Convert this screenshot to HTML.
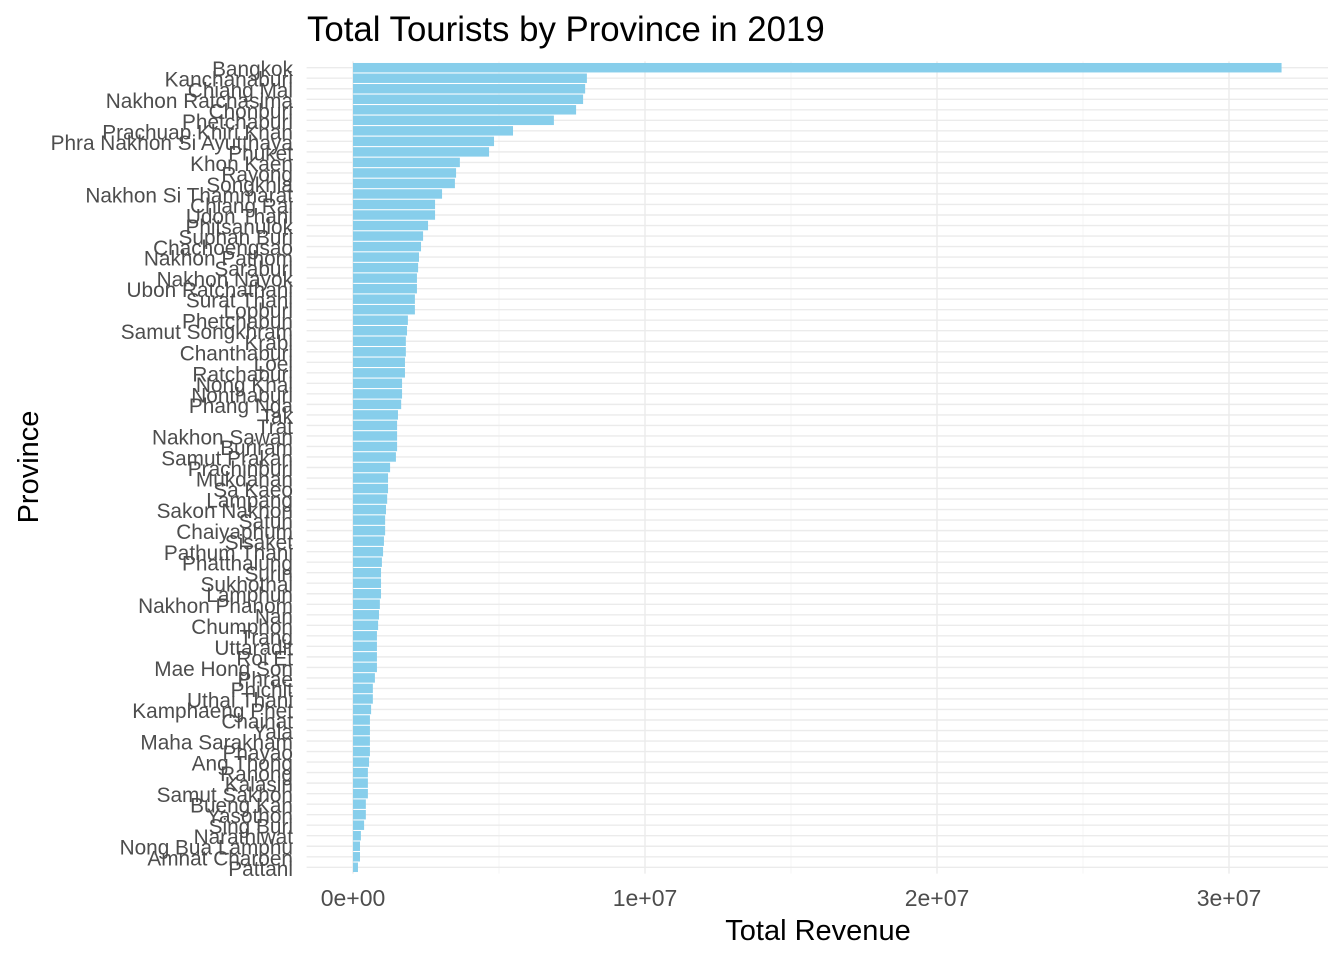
<!DOCTYPE html>
<html><head><meta charset="utf-8"><style>
body{margin:0;background:#fff}
svg text{font-family:"Liberation Sans",Arial,sans-serif}
</style></head><body>
<svg id="chart" width="1344" height="960" xmlns="http://www.w3.org/2000/svg">
<rect width="1344" height="960" fill="#fff"/>
<g id="grid"></g>
<g id="bars"></g>
<g id="ylabels"></g>
<g id="xlabels"></g>
<text x="307" y="41" font-size="34.8" fill="#000">Total Tourists by Province in 2019</text>
<text x="818" y="940" font-size="29" fill="#000" text-anchor="middle">Total Revenue</text>
<text transform="translate(38,467) rotate(-90)" font-size="29" fill="#000" text-anchor="middle">Province</text>
</svg>
<script>
const provinces = ["Bangkok","Kanchanaburi","Chiang Mai","Nakhon Ratchasima","Chonburi","Phetchaburi","Prachuap Khiri Khan","Phra Nakhon Si Ayutthaya","Phuket","Khon Kaen","Rayong","Songkhla","Nakhon Si Thammarat","Chiang Rai","Udon Thani","Phitsanulok","Suphan Buri","Chachoengsao","Nakhon Pathom","Saraburi","Nakhon Nayok","Ubon Ratchathani","Surat Thani","Lopburi","Phetchabun","Samut Songkhram","Krabi","Chanthaburi","Loei","Ratchaburi","Nong Khai","Nonthaburi","Phang Nga","Tak","Trat","Nakhon Sawan","Buriram","Samut Prakan","Prachinburi","Mukdahan","Sa Kaeo","Lampang","Sakon Nakhon","Satun","Chaiyaphum","Sisaket","Pathum Thani","Phatthalung","Surin","Sukhothai","Lamphun","Nakhon Phanom","Nan","Chumphon","Trang","Uttaradit","Roi Et","Mae Hong Son","Phrae","Phichit","Uthai Thani","Kamphaeng Phet","Chainat","Yala","Maha Sarakham","Phayao","Ang Thong","Ranong","Kalasin","Samut Sakhon","Bueng Kan","Yasothon","Sing Buri","Narathiwat","Nong Bua Lamphu","Amnat Charoen","Pattani"];
const revenue = [31.8,8.01,7.95,7.88,7.64,6.88,5.48,4.83,4.66,3.66,3.53,3.49,3.05,2.81,2.81,2.57,2.40,2.33,2.26,2.23,2.19,2.19,2.12,2.12,1.88,1.85,1.81,1.81,1.78,1.78,1.68,1.68,1.65,1.54,1.51,1.51,1.51,1.47,1.27,1.20,1.20,1.17,1.13,1.10,1.10,1.06,1.03,0.99,0.96,0.96,0.96,0.92,0.89,0.86,0.82,0.82,0.82,0.82,0.75,0.68,0.68,0.62,0.58,0.58,0.58,0.58,0.55,0.51,0.51,0.51,0.44,0.44,0.38,0.27,0.24,0.24,0.17].map(v=>v*1e6);
const xTicks = [0,1e7,2e7,3e7];
const xTickLabels = ["0e+00","1e+07","2e+07","3e+07"];
const xMinor = [5e6,1.5e7,2.5e7];

const NS="http://www.w3.org/2000/svg";
const px0=353, pxPer=292/1e7, panelL=306.6, panelR=1328;
const x = v => px0 + v*pxPer;
const n = provinces.length, panelTop=61.4, panelBot=873.6;
const unit=(panelBot-panelTop)/(n-1+1.2);
const yc = i => panelTop + (0.6+i)*unit;
function mk(tag,attrs,parent){const e=document.createElementNS(NS,tag);for(const k in attrs)e.setAttribute(k,attrs[k]);parent.appendChild(e);return e;}
const grid=document.getElementById('grid'),bars=document.getElementById('bars'),yl=document.getElementById('ylabels'),xl=document.getElementById('xlabels');
xMinor.forEach(v=>{const l=mk('line',{x1:x(v),x2:x(v),y1:panelTop,y2:panelBot,stroke:'#F2F2F2','stroke-width':0.8},grid);

});
xTicks.forEach((v,i)=>{const l=mk('line',{x1:x(v),x2:x(v),y1:panelTop,y2:panelBot,stroke:'#EBEBEB','stroke-width':1.4},grid);


const t=mk('text',{x:x(v),y:906,'font-size':23,fill:'#4D4D4D','text-anchor':'middle'},xl);t.textContent=xTickLabels[i];

});
provinces.forEach((p,i)=>{const y=yc(i);
const g=mk('line',{x1:panelL,x2:panelR,y1:y,y2:y,stroke:'#EBEBEB','stroke-width':1.4},grid);


const b=mk('rect',{x:x(0),y:y-0.45*unit,width:x(revenue[i])-x(0),height:0.9*unit,fill:'#87CEEB'},bars);


const t=mk('text',{x:293,y:y+8.5,'font-size':20.8,fill:'#4D4D4D','text-anchor':'end'},yl);t.textContent=p;

});
</script>
</body></html>
